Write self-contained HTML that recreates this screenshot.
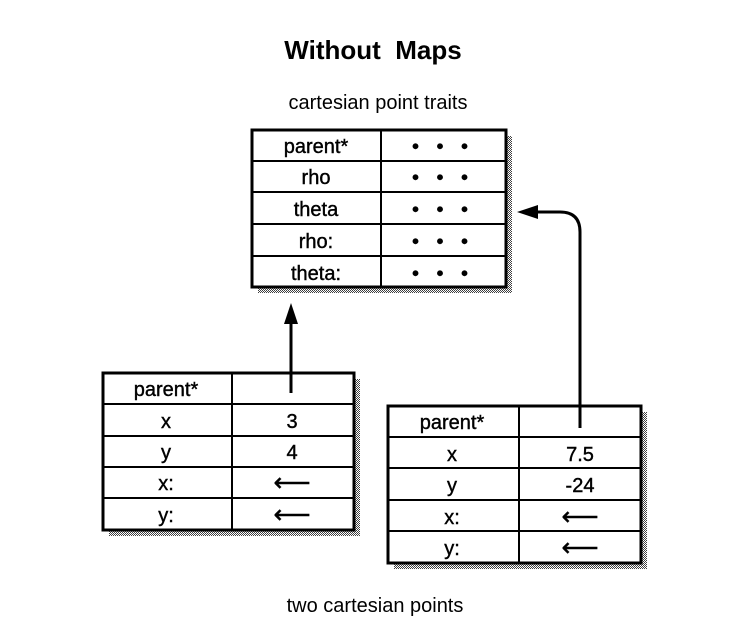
<!DOCTYPE html>
<html><head><style>body{margin:0;background:#fff}svg{display:block}text{font-family:"Liberation Sans",sans-serif;fill:#000}</style></head><body>
<svg width="752" height="642" xmlns="http://www.w3.org/2000/svg">
<defs><pattern id="d" width="2" height="2" patternUnits="userSpaceOnUse"><rect width="1" height="1" fill="#000"/><rect x="1" y="1" width="1" height="1" fill="#000"/></pattern></defs>
<text x="373" y="59" font-size="26" font-weight="bold" text-anchor="middle" xml:space="preserve">Without  Maps</text>
<text x="378" y="109" font-size="20" text-anchor="middle">cartesian point traits</text>
<text x="375" y="612" font-size="20" text-anchor="middle">two cartesian points</text>
<g font-size="20" text-anchor="middle" stroke="#000" stroke-width="0.4">
<!-- top table -->
<rect x="258" y="136" width="254" height="157" fill="url(#d)" opacity="0.75" stroke="none"/>
<rect x="252" y="130" width="254" height="157" fill="#fff" stroke="#000" stroke-width="3"/>
<path d="M381 130V287M252 161H506M252 192H506M252 224H506M252 256H506" stroke="#000" stroke-width="2"/>
<text x="316" y="153">parent*</text><text x="316" y="184">rho</text><text x="316" y="216">theta</text><text x="316" y="248">rho:</text><text x="316" y="280">theta:</text>
<text x="443" y="153" letter-spacing="6">• • •</text><text x="443" y="184" letter-spacing="6">• • •</text><text x="443" y="216" letter-spacing="6">• • •</text><text x="443" y="248" letter-spacing="6">• • •</text><text x="443" y="280" letter-spacing="6">• • •</text>
<!-- left table -->
<rect x="109" y="379" width="251" height="157" fill="url(#d)" opacity="0.75" stroke="none"/>
<rect x="103" y="373" width="251" height="157" fill="#fff" stroke="#000" stroke-width="3"/>
<path d="M232 373V530M103 404H354M103 436H354M103 467H354M103 498H354" stroke="#000" stroke-width="2"/>
<text x="166" y="396">parent*</text><text x="166" y="428">x</text><text x="166" y="459">y</text><text x="166" y="490">x:</text><text x="166" y="522">y:</text>
<text x="292" y="428">3</text><text x="292" y="459">4</text><text x="292" y="491" font-size="26">⟵</text><text x="292" y="523" font-size="26">⟵</text>
<!-- right table -->
<rect x="394" y="412" width="253" height="157" fill="url(#d)" opacity="0.75" stroke="none"/>
<rect x="388" y="406" width="253" height="157" fill="#fff" stroke="#000" stroke-width="3"/>
<path d="M519 406V563M388 437H641M388 468H641M388 500H641M388 531H641" stroke="#000" stroke-width="2"/>
<text x="452" y="429">parent*</text><text x="452" y="461">x</text><text x="452" y="492">y</text><text x="452" y="524">x:</text><text x="452" y="555">y:</text>
<text x="580" y="461">7.5</text><text x="580" y="492">-24</text><text x="580" y="525" font-size="26">⟵</text><text x="580" y="556" font-size="26">⟵</text>
</g>
<!-- arrows -->
<path d="M291 393V318" stroke="#000" stroke-width="3" fill="none"/>
<path d="M291 303L284 324L298 324Z" fill="#000"/>
<path d="M580 428V232Q580 212 560 212H535" stroke="#000" stroke-width="3" fill="none"/>
<path d="M517 212L538 205L538 219Z" fill="#000"/>
</svg>
</body></html>
